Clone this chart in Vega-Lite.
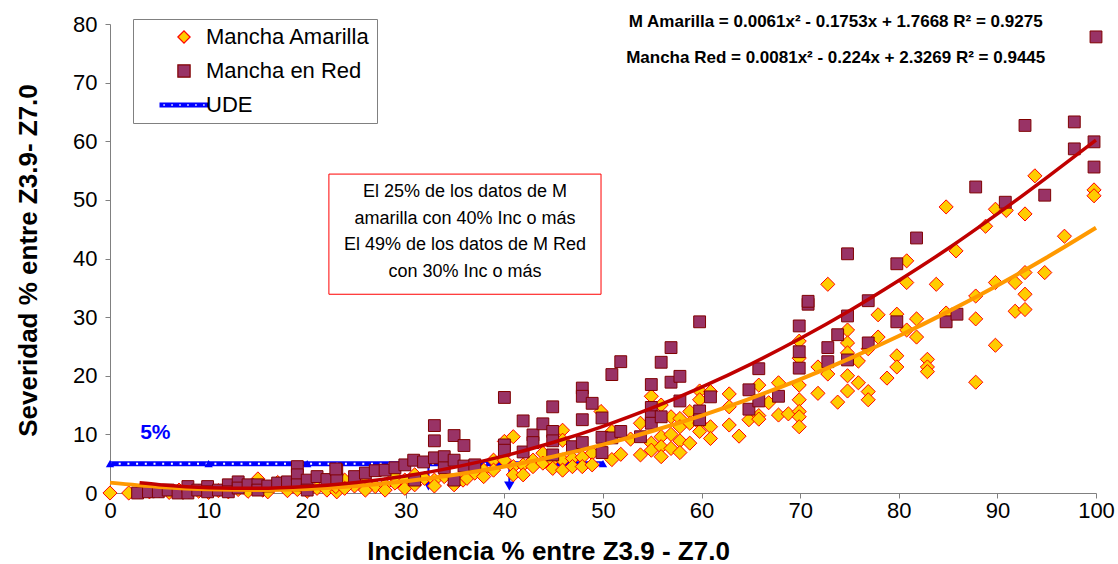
{
  "$schema": "https://vega.github.io/schema/vega-lite/v6.json",
  "width": 986,
  "height": 469,
  "autosize": "none",
  "padding": {"left": 110, "top": 24, "right": 22, "bottom": 71},
  "background": "white",
  "config": {"font": "Liberation Sans", "view": {"stroke": null}},
  "datasets": {
    "pts": [
      {"s":"Mancha Amarilla","x":0,"y":0},{"s":"Mancha Amarilla","x":1.9,"y":0},{"s":"Mancha Amarilla","x":3,"y":0.3},{"s":"Mancha Amarilla","x":4,"y":0.2},{"s":"Mancha Amarilla","x":5,"y":0.4},{"s":"Mancha Amarilla","x":6,"y":0.1},{"s":"Mancha Amarilla","x":7,"y":0.5},{"s":"Mancha Amarilla","x":8,"y":0.2},{"s":"Mancha Amarilla","x":9,"y":0.3},{"s":"Mancha Amarilla","x":10,"y":0.1},{"s":"Mancha Amarilla","x":11,"y":0.4},{"s":"Mancha Amarilla","x":12,"y":0.2},{"s":"Mancha Amarilla","x":13,"y":0.6},{"s":"Mancha Amarilla","x":14,"y":0.3},{"s":"Mancha Amarilla","x":15,"y":2.4},{"s":"Mancha Amarilla","x":15.5,"y":0.5},{"s":"Mancha Amarilla","x":16,"y":0.2},{"s":"Mancha Amarilla","x":17,"y":1.8},{"s":"Mancha Amarilla","x":18,"y":0.4},{"s":"Mancha Amarilla","x":19,"y":0.6},{"s":"Mancha Amarilla","x":20,"y":0.3},{"s":"Mancha Amarilla","x":21,"y":0.8},{"s":"Mancha Amarilla","x":22,"y":0.5},{"s":"Mancha Amarilla","x":23,"y":0.2},{"s":"Mancha Amarilla","x":22.9,"y":1.1},{"s":"Mancha Amarilla","x":23.8,"y":2.2},{"s":"Mancha Amarilla","x":24.8,"y":1.2},{"s":"Mancha Amarilla","x":25.9,"y":1.7},{"s":"Mancha Amarilla","x":26.9,"y":1.1},{"s":"Mancha Amarilla","x":27.9,"y":1.4},{"s":"Mancha Amarilla","x":28.9,"y":1.7},{"s":"Mancha Amarilla","x":29.9,"y":2.2},{"s":"Mancha Amarilla","x":29.9,"y":0.8},{"s":"Mancha Amarilla","x":30.9,"y":3.1},{"s":"Mancha Amarilla","x":30.9,"y":1.4},{"s":"Mancha Amarilla","x":31.9,"y":2.5},{"s":"Mancha Amarilla","x":32.9,"y":2.2},{"s":"Mancha Amarilla","x":32.9,"y":1.2},{"s":"Mancha Amarilla","x":33.9,"y":2.8},{"s":"Mancha Amarilla","x":34.9,"y":1.4},{"s":"Mancha Amarilla","x":35.8,"y":2.2},{"s":"Mancha Amarilla","x":28.9,"y":2.8},{"s":"Mancha Amarilla","x":27.9,"y":0.5},{"s":"Mancha Amarilla","x":23.8,"y":0.8},{"s":"Mancha Amarilla","x":25.9,"y":0.5},{"s":"Mancha Amarilla","x":36.2,"y":2.5},{"s":"Mancha Amarilla","x":37,"y":3.4},{"s":"Mancha Amarilla","x":37.9,"y":3.9},{"s":"Mancha Amarilla","x":37.9,"y":2.8},{"s":"Mancha Amarilla","x":38.9,"y":5.6},{"s":"Mancha Amarilla","x":38.9,"y":3.9},{"s":"Mancha Amarilla","x":40,"y":5.6},{"s":"Mancha Amarilla","x":40,"y":8.8},{"s":"Mancha Amarilla","x":40.9,"y":9.6},{"s":"Mancha Amarilla","x":40.9,"y":4.5},{"s":"Mancha Amarilla","x":40.9,"y":3.1},{"s":"Mancha Amarilla","x":41.9,"y":4.8},{"s":"Mancha Amarilla","x":41.9,"y":3.1},{"s":"Mancha Amarilla","x":42.9,"y":5.6},{"s":"Mancha Amarilla","x":42.9,"y":4.5},{"s":"Mancha Amarilla","x":43.9,"y":6.8},{"s":"Mancha Amarilla","x":43.9,"y":5.1},{"s":"Mancha Amarilla","x":44.9,"y":5.6},{"s":"Mancha Amarilla","x":44.9,"y":4.2},{"s":"Mancha Amarilla","x":45.9,"y":10.7},{"s":"Mancha Amarilla","x":45.9,"y":9.0},{"s":"Mancha Amarilla","x":45.9,"y":5.6},{"s":"Mancha Amarilla","x":45.9,"y":3.9},{"s":"Mancha Amarilla","x":46.9,"y":5.9},{"s":"Mancha Amarilla","x":46.9,"y":4.5},{"s":"Mancha Amarilla","x":47.9,"y":6.1},{"s":"Mancha Amarilla","x":47.9,"y":4.5},{"s":"Mancha Amarilla","x":48.9,"y":6.8},{"s":"Mancha Amarilla","x":48.9,"y":4.8},{"s":"Mancha Amarilla","x":49.8,"y":13.9},{"s":"Mancha Amarilla","x":50.9,"y":10.5},{"s":"Mancha Amarilla","x":50.9,"y":5.7},{"s":"Mancha Amarilla","x":51.8,"y":6.6},{"s":"Mancha Amarilla","x":52.8,"y":9.2},{"s":"Mancha Amarilla","x":53.8,"y":11.9},{"s":"Mancha Amarilla","x":53.8,"y":6.5},{"s":"Mancha Amarilla","x":54.9,"y":16.5},{"s":"Mancha Amarilla","x":54.9,"y":8.5},{"s":"Mancha Amarilla","x":54.9,"y":7.3},{"s":"Mancha Amarilla","x":55.9,"y":15},{"s":"Mancha Amarilla","x":55.9,"y":9.6},{"s":"Mancha Amarilla","x":55.9,"y":7.9},{"s":"Mancha Amarilla","x":55.9,"y":6.2},{"s":"Mancha Amarilla","x":56.9,"y":13},{"s":"Mancha Amarilla","x":56.9,"y":10},{"s":"Mancha Amarilla","x":56.9,"y":7.6},{"s":"Mancha Amarilla","x":57.8,"y":12.7},{"s":"Mancha Amarilla","x":57.8,"y":11.3},{"s":"Mancha Amarilla","x":57.8,"y":8.9},{"s":"Mancha Amarilla","x":57.8,"y":6.9},{"s":"Mancha Amarilla","x":58.8,"y":13.9},{"s":"Mancha Amarilla","x":58.8,"y":11.9},{"s":"Mancha Amarilla","x":58.8,"y":8.5},{"s":"Mancha Amarilla","x":59.8,"y":17.4},{"s":"Mancha Amarilla","x":59.8,"y":15.9},{"s":"Mancha Amarilla","x":59.8,"y":11.9},{"s":"Mancha Amarilla","x":59.8,"y":10.5},{"s":"Mancha Amarilla","x":60.9,"y":17.3},{"s":"Mancha Amarilla","x":60.9,"y":11.3},{"s":"Mancha Amarilla","x":60.9,"y":9.3},{"s":"Mancha Amarilla","x":62.8,"y":16.9},{"s":"Mancha Amarilla","x":62.8,"y":14.7},{"s":"Mancha Amarilla","x":62.8,"y":11.6},{"s":"Mancha Amarilla","x":63.8,"y":9.7},{"s":"Mancha Amarilla","x":64.8,"y":12.5},{"s":"Mancha Amarilla","x":65.8,"y":18.4},{"s":"Mancha Amarilla","x":65.8,"y":13.2},{"s":"Mancha Amarilla","x":65.8,"y":12.6},{"s":"Mancha Amarilla","x":66.8,"y":15.4},{"s":"Mancha Amarilla","x":67.8,"y":18.8},{"s":"Mancha Amarilla","x":67.8,"y":13.3},{"s":"Mancha Amarilla","x":68.8,"y":13.5},{"s":"Mancha Amarilla","x":69.9,"y":25.9},{"s":"Mancha Amarilla","x":69.9,"y":23},{"s":"Mancha Amarilla","x":69.9,"y":18.4},{"s":"Mancha Amarilla","x":69.9,"y":15.9},{"s":"Mancha Amarilla","x":69.9,"y":13.9},{"s":"Mancha Amarilla","x":69.9,"y":13.0},{"s":"Mancha Amarilla","x":69.9,"y":11.3},{"s":"Mancha Amarilla","x":71.8,"y":21.5},{"s":"Mancha Amarilla","x":71.8,"y":17},{"s":"Mancha Amarilla","x":72.8,"y":35.6},{"s":"Mancha Amarilla","x":72.8,"y":20.3},{"s":"Mancha Amarilla","x":73.8,"y":15.5},{"s":"Mancha Amarilla","x":74.8,"y":27.8},{"s":"Mancha Amarilla","x":74.8,"y":25.6},{"s":"Mancha Amarilla","x":74.8,"y":23.9},{"s":"Mancha Amarilla","x":74.8,"y":20},{"s":"Mancha Amarilla","x":74.8,"y":17.4},{"s":"Mancha Amarilla","x":75.9,"y":22.5},{"s":"Mancha Amarilla","x":75.9,"y":18.8},{"s":"Mancha Amarilla","x":76.9,"y":24.6},{"s":"Mancha Amarilla","x":76.9,"y":17.3},{"s":"Mancha Amarilla","x":76.9,"y":15.9},{"s":"Mancha Amarilla","x":77.9,"y":30.4},{"s":"Mancha Amarilla","x":77.9,"y":26.6},{"s":"Mancha Amarilla","x":78.8,"y":19.6},{"s":"Mancha Amarilla","x":79.8,"y":30.5},{"s":"Mancha Amarilla","x":79.8,"y":23.4},{"s":"Mancha Amarilla","x":79.8,"y":21.5},{"s":"Mancha Amarilla","x":80.8,"y":39.6},{"s":"Mancha Amarilla","x":80.8,"y":35.9},{"s":"Mancha Amarilla","x":80.8,"y":27.8},{"s":"Mancha Amarilla","x":81.8,"y":29.7},{"s":"Mancha Amarilla","x":81.8,"y":26.6},{"s":"Mancha Amarilla","x":82.9,"y":22.8},{"s":"Mancha Amarilla","x":82.9,"y":21.5},{"s":"Mancha Amarilla","x":82.9,"y":20.7},{"s":"Mancha Amarilla","x":83.8,"y":35.6},{"s":"Mancha Amarilla","x":84.8,"y":48.8},{"s":"Mancha Amarilla","x":84.8,"y":30.7},{"s":"Mancha Amarilla","x":85.8,"y":41.3},{"s":"Mancha Amarilla","x":87.8,"y":33.6},{"s":"Mancha Amarilla","x":87.8,"y":29.7},{"s":"Mancha Amarilla","x":87.8,"y":18.9},{"s":"Mancha Amarilla","x":88.8,"y":45.5},{"s":"Mancha Amarilla","x":89.8,"y":48.4},{"s":"Mancha Amarilla","x":89.8,"y":35.9},{"s":"Mancha Amarilla","x":89.8,"y":25.2},{"s":"Mancha Amarilla","x":90.9,"y":48.2},{"s":"Mancha Amarilla","x":91.8,"y":35.9},{"s":"Mancha Amarilla","x":91.8,"y":31.0},{"s":"Mancha Amarilla","x":92.8,"y":47.6},{"s":"Mancha Amarilla","x":92.8,"y":37.6},{"s":"Mancha Amarilla","x":92.8,"y":33.9},{"s":"Mancha Amarilla","x":92.8,"y":31.3},{"s":"Mancha Amarilla","x":93.8,"y":54.1},{"s":"Mancha Amarilla","x":94.8,"y":37.6},{"s":"Mancha Amarilla","x":96.8,"y":43.8},{"s":"Mancha Amarilla","x":99.8,"y":51.7},{"s":"Mancha Amarilla","x":99.8,"y":50.7},
      {"s":"Mancha en Red","x":2.8,"y":0},{"s":"Mancha en Red","x":3.9,"y":0.2},{"s":"Mancha en Red","x":4.9,"y":0.2},{"s":"Mancha en Red","x":5.9,"y":0.5},{"s":"Mancha en Red","x":6.9,"y":0},{"s":"Mancha en Red","x":7.9,"y":1.1},{"s":"Mancha en Red","x":7.9,"y":0},{"s":"Mancha en Red","x":8.9,"y":0.5},{"s":"Mancha en Red","x":9.9,"y":1.1},{"s":"Mancha en Red","x":9.9,"y":0.2},{"s":"Mancha en Red","x":11,"y":0.5},{"s":"Mancha en Red","x":12,"y":1.4},{"s":"Mancha en Red","x":12,"y":0.2},{"s":"Mancha en Red","x":13,"y":1.9},{"s":"Mancha en Red","x":13,"y":0.85},{"s":"Mancha en Red","x":14,"y":1.4},{"s":"Mancha en Red","x":15,"y":1.4},{"s":"Mancha en Red","x":15,"y":0.5},{"s":"Mancha en Red","x":16,"y":1.2},{"s":"Mancha en Red","x":17,"y":1.7},{"s":"Mancha en Red","x":18,"y":1.9},{"s":"Mancha en Red","x":19,"y":4.5},{"s":"Mancha en Red","x":19,"y":3.1},{"s":"Mancha en Red","x":19,"y":1.4},{"s":"Mancha en Red","x":20,"y":2.2},{"s":"Mancha en Red","x":20,"y":0.5},{"s":"Mancha en Red","x":21,"y":2.8},{"s":"Mancha en Red","x":22,"y":2.3},{"s":"Mancha en Red","x":23,"y":3.9},{"s":"Mancha en Red","x":23,"y":2.4},{"s":"Mancha en Red","x":22.9,"y":4.1},{"s":"Mancha en Red","x":24.8,"y":2.8},{"s":"Mancha en Red","x":25.9,"y":3.4},{"s":"Mancha en Red","x":26.9,"y":3.8},{"s":"Mancha en Red","x":27.9,"y":3.9},{"s":"Mancha en Red","x":28.9,"y":4.3},{"s":"Mancha en Red","x":29.9,"y":4.8},{"s":"Mancha en Red","x":30.8,"y":5.6},{"s":"Mancha en Red","x":30.9,"y":2.2},{"s":"Mancha en Red","x":31.8,"y":5.3},{"s":"Mancha en Red","x":32.9,"y":11.5},{"s":"Mancha en Red","x":32.9,"y":8.9},{"s":"Mancha en Red","x":32.9,"y":6.0},{"s":"Mancha en Red","x":33.9,"y":6.2},{"s":"Mancha en Red","x":33.9,"y":4.3},{"s":"Mancha en Red","x":34.9,"y":9.8},{"s":"Mancha en Red","x":34.9,"y":5.6},{"s":"Mancha en Red","x":34.9,"y":2.2},{"s":"Mancha en Red","x":35.9,"y":8.1},{"s":"Mancha en Red","x":35.9,"y":4.6},{"s":"Mancha en Red","x":37,"y":4.8},{"s":"Mancha en Red","x":40,"y":16.3},{"s":"Mancha en Red","x":40,"y":8.2},{"s":"Mancha en Red","x":40,"y":7.3},{"s":"Mancha en Red","x":41.9,"y":12.3},{"s":"Mancha en Red","x":41.9,"y":7.0},{"s":"Mancha en Red","x":42.9,"y":9.9},{"s":"Mancha en Red","x":42.9,"y":8.6},{"s":"Mancha en Red","x":43.9,"y":11.8},{"s":"Mancha en Red","x":44.9,"y":14.7},{"s":"Mancha en Red","x":44.9,"y":10.5},{"s":"Mancha en Red","x":44.9,"y":8.9},{"s":"Mancha en Red","x":44.9,"y":6.5},{"s":"Mancha en Red","x":46.9,"y":7.9},{"s":"Mancha en Red","x":47.9,"y":17.9},{"s":"Mancha en Red","x":47.9,"y":16.5},{"s":"Mancha en Red","x":47.9,"y":12.5},{"s":"Mancha en Red","x":47.9,"y":8.6},{"s":"Mancha en Red","x":48.9,"y":15.3},{"s":"Mancha en Red","x":49.9,"y":12.8},{"s":"Mancha en Red","x":49.9,"y":9.5},{"s":"Mancha en Red","x":49.9,"y":6.9},{"s":"Mancha en Red","x":50.9,"y":9.4},{"s":"Mancha en Red","x":50.9,"y":20.2},{"s":"Mancha en Red","x":51.8,"y":22.4},{"s":"Mancha en Red","x":51.8,"y":10.5},{"s":"Mancha en Red","x":53.8,"y":9.6},{"s":"Mancha en Red","x":54.9,"y":18.5},{"s":"Mancha en Red","x":54.9,"y":14.6},{"s":"Mancha en Red","x":54.9,"y":13.0},{"s":"Mancha en Red","x":54.9,"y":11.9},{"s":"Mancha en Red","x":55.9,"y":22.3},{"s":"Mancha en Red","x":55.9,"y":13.0},{"s":"Mancha en Red","x":56.9,"y":24.8},{"s":"Mancha en Red","x":56.9,"y":18.9},{"s":"Mancha en Red","x":57.8,"y":19.9},{"s":"Mancha en Red","x":57.8,"y":15.7},{"s":"Mancha en Red","x":59.8,"y":29.2},{"s":"Mancha en Red","x":59.8,"y":14.0},{"s":"Mancha en Red","x":59.8,"y":12.5},{"s":"Mancha en Red","x":60.9,"y":16.4},{"s":"Mancha en Red","x":64.8,"y":17.6},{"s":"Mancha en Red","x":64.8,"y":14.3},{"s":"Mancha en Red","x":65.8,"y":21.2},{"s":"Mancha en Red","x":65.8,"y":15.7},{"s":"Mancha en Red","x":67.8,"y":16.5},{"s":"Mancha en Red","x":69.9,"y":28.5},{"s":"Mancha en Red","x":69.9,"y":24.1},{"s":"Mancha en Red","x":69.9,"y":21.3},{"s":"Mancha en Red","x":70.8,"y":32.2},{"s":"Mancha en Red","x":70.8,"y":32.7},{"s":"Mancha en Red","x":72.8,"y":24.8},{"s":"Mancha en Red","x":72.8,"y":22.4},{"s":"Mancha en Red","x":73.8,"y":27.0},{"s":"Mancha en Red","x":74.8,"y":40.8},{"s":"Mancha en Red","x":74.8,"y":30.2},{"s":"Mancha en Red","x":74.8,"y":22.7},{"s":"Mancha en Red","x":76.9,"y":32.8},{"s":"Mancha en Red","x":76.9,"y":25.6},{"s":"Mancha en Red","x":79.8,"y":39.1},{"s":"Mancha en Red","x":79.8,"y":29.2},{"s":"Mancha en Red","x":81.8,"y":43.5},{"s":"Mancha en Red","x":84.8,"y":29.2},{"s":"Mancha en Red","x":85.9,"y":30.5},{"s":"Mancha en Red","x":87.8,"y":52.2},{"s":"Mancha en Red","x":90.8,"y":49.6},{"s":"Mancha en Red","x":92.8,"y":62.7},{"s":"Mancha en Red","x":94.8,"y":50.8},{"s":"Mancha en Red","x":97.8,"y":63.3},{"s":"Mancha en Red","x":97.8,"y":58.7},{"s":"Mancha en Red","x":99.8,"y":59.9},{"s":"Mancha en Red","x":99.8,"y":55.6},{"s":"Mancha en Red","x":100,"y":77.8}
    ],
    "trA": [
      {"x":0,"y":1.77},{"x":5,"y":1.04},{"x":10,"y":0.62},{"x":15,"y":0.51},{"x":20,"y":0.70},{"x":25,"y":1.2},{"x":30,"y":2.0},{"x":35,"y":3.1},{"x":40,"y":4.51},{"x":45,"y":6.23},{"x":50,"y":8.25},{"x":55,"y":10.58},{"x":60,"y":13.21},{"x":65,"y":16.15},{"x":70,"y":19.39},{"x":75,"y":22.93},{"x":80,"y":26.78},{"x":85,"y":30.94},{"x":90,"y":35.4},{"x":95,"y":40.17},{"x":100,"y":45.24}
    ],
    "trR": [
      {"x":3,"y":1.73},{"x":5,"y":1.41},{"x":10,"y":0.9},{"x":15,"y":0.79},{"x":20,"y":1.09},{"x":25,"y":1.79},{"x":30,"y":2.9},{"x":35,"y":4.41},{"x":40,"y":6.33},{"x":45,"y":8.65},{"x":50,"y":11.38},{"x":55,"y":14.5},{"x":60,"y":18.05},{"x":65,"y":21.99},{"x":70,"y":26.34},{"x":75,"y":31.09},{"x":80,"y":36.25},{"x":85,"y":41.7},{"x":90,"y":47.6},{"x":95,"y":53.8},{"x":100,"y":60.2}
    ],
    "ude": [
      {"x":0,"y":5},{"x":10,"y":5},{"x":20,"y":5},{"x":30,"y":5},{"x":40,"y":5},{"x":50,"y":5}
    ],
    "arrows": [
      {"x":32.3,"y":5.6,"y2":0.9,"tip":1.2},{"x":40.5,"y":4.4,"y2":0.9,"tip":1.2}
    ]
  },
  "layer": [
    {
      "data": {"name": "ude"},
      "mark": {"type": "line", "color": "#0000FF", "strokeWidth": 5},
      "encoding": {
        "x": {"field": "x", "type": "quantitative", "scale": {"domain": [0, 100], "nice": false},
          "axis": {"values": [0,10,20,30,40,50,60,70,80,90,100], "grid": false, "tickSize": 5, "labelFontSize": 22, "labelColor": "black", "labelPadding": 2, "domainColor": "#808080", "tickColor": "#808080", "labelFlush": false,
            "title": "Incidencia % entre Z3.9 - Z7.0", "titleFontSize": 26, "titleFontWeight": "bold", "titleColor": "black", "titleX": 438, "titleY": 58, "titleBaseline": "middle", "titleAlign": "center"}},
        "y": {"field": "y", "type": "quantitative", "scale": {"domain": [0, 80], "nice": false},
          "axis": {"values": [0,10,20,30,40,50,60,70,80], "grid": false, "tickSize": 5, "labelFontSize": 22, "labelColor": "black", "labelPadding": 8, "domainColor": "#808080", "tickColor": "#808080", "labelFlush": false,
            "title": "Severidad % entre Z3.9- Z7.0", "titleFontSize": 26, "titleFontWeight": "bold", "titleColor": "black", "titleX": -82, "titleY": 236, "titleBaseline": "middle", "titleAlign": "center", "titleAngle": -90}}
      }
    },
    {
      "data": {"name": "ude"},
      "mark": {"type": "line", "color": "white", "strokeWidth": 2, "strokeDash": [2, 6.7]},
      "encoding": {"x": {"field": "x", "type": "quantitative"}, "y": {"field": "y", "type": "quantitative"}}
    },
    {
      "data": {"name": "ude"},
      "mark": {"type": "point", "shape": "triangle-up", "filled": true, "color": "#0000FF", "size": 70, "opacity": 1},
      "encoding": {"x": {"field": "x", "type": "quantitative"}, "y": {"field": "y", "type": "quantitative"}}
    },
    {
      "data": {"name": "arrows"},
      "mark": {"type": "rule", "color": "#0000FF", "strokeWidth": 2},
      "encoding": {"x": {"field": "x", "type": "quantitative"}, "y": {"field": "y", "type": "quantitative"}, "y2": {"field": "y2"}}
    },
    {
      "data": {"name": "arrows"},
      "mark": {"type": "point", "shape": "triangle-down", "filled": true, "color": "#0000FF", "size": 110, "opacity": 1},
      "encoding": {"x": {"field": "x", "type": "quantitative"}, "y": {"field": "tip", "type": "quantitative"}}
    },
    {
      "data": {"name": "pts"},
      "transform": [{"filter": "datum.s === 'Mancha Amarilla'"}],
      "mark": {"type": "point", "filled": true, "strokeWidth": 1, "opacity": 1, "size": 200},
      "encoding": {
        "x": {"field": "x", "type": "quantitative"},
        "y": {"field": "y", "type": "quantitative"},
        "shape": {"field": "s", "type": "nominal", "scale": {"domain": ["Mancha Amarilla", "Mancha en Red", "UDE"], "range": ["diamond", "square", "M-4,-0.4H4V0.4H-4Z M-3.37,-0.13V0.13H-3.13V-0.13Z M-2.07,-0.13V0.13H-1.83V-0.13Z M-0.77,-0.13V0.13H-0.53V-0.13Z M0.53,-0.13V0.13H0.77V-0.13Z M1.83,-0.13V0.13H2.07V-0.13Z M3.13,-0.13V0.13H3.37V-0.13Z"]},
          "legend": {"title": null, "orient": "none", "legendX": 23, "legendY": -5, "padding": 7, "rowPadding": 12, "symbolOffset": 33, "labelOffset": 11, "labelFontSize": 22, "labelLimit": 400, "labelColor": "black", "symbolSize": 150, "symbolStrokeWidth": 1.2, "strokeColor": "#808080", "fillColor": "white"}},
        "fill": {"field": "s", "type": "nominal", "scale": {"domain": ["Mancha Amarilla", "Mancha en Red", "UDE"], "range": ["#FFCC00", "#993366", "#0000FF"]},
          "legend": {"title": null, "orient": "none", "legendX": 23, "legendY": -5, "padding": 7, "rowPadding": 12, "symbolOffset": 33, "labelOffset": 11, "labelFontSize": 22, "labelLimit": 400, "labelColor": "black", "symbolSize": 150, "symbolStrokeWidth": 1.2, "strokeColor": "#808080", "fillColor": "white"}},
        "stroke": {"field": "s", "type": "nominal", "scale": {"domain": ["Mancha Amarilla", "Mancha en Red", "UDE"], "range": ["#FF0000", "#800000", "rgba(0,0,0,0)"]},
          "legend": {"title": null, "orient": "none", "legendX": 23, "legendY": -5, "padding": 7, "rowPadding": 12, "symbolOffset": 33, "labelOffset": 11, "labelFontSize": 22, "labelLimit": 400, "labelColor": "black", "symbolSize": 150, "symbolStrokeWidth": 1.2, "strokeColor": "#808080", "fillColor": "white"}}
      }
    },
    {
      "data": {"name": "pts"},
      "transform": [{"filter": "datum.s === 'Mancha en Red'"}],
      "mark": {"type": "point", "filled": true, "strokeWidth": 1, "opacity": 1, "size": 140},
      "encoding": {
        "x": {"field": "x", "type": "quantitative"},
        "y": {"field": "y", "type": "quantitative"},
        "shape": {"field": "s", "type": "nominal"},
        "fill": {"field": "s", "type": "nominal"},
        "stroke": {"field": "s", "type": "nominal"}
      }
    },
    {
      "data": {"name": "trA"},
      "mark": {"type": "line", "color": "#FF9900", "strokeWidth": 4, "interpolate": "monotone"},
      "encoding": {"x": {"field": "x", "type": "quantitative"}, "y": {"field": "y", "type": "quantitative"}}
    },
    {
      "data": {"name": "trR"},
      "mark": {"type": "line", "color": "#C00000", "strokeWidth": 3.5, "interpolate": "monotone"},
      "encoding": {"x": {"field": "x", "type": "quantitative"}, "y": {"field": "y", "type": "quantitative"}}
    },
    {
      "data": {"values": [{"x1": 22.2, "x2": 49.8, "y1": 33.9, "y2": 54.4}]},
      "mark": {"type": "rect", "fill": "white", "stroke": "#FF0000", "strokeWidth": 1},
      "encoding": {"x": {"field": "x1", "type": "quantitative"}, "x2": {"field": "x2"}, "y": {"field": "y1", "type": "quantitative"}, "y2": {"field": "y2"}}
    },
    {
      "data": {"values": [
        {"x": 36, "y": 51.3, "t": "El 25% de los datos de M"},
        {"x": 36, "y": 46.7, "t": "amarilla con 40% Inc o más"},
        {"x": 36, "y": 42.3, "t": "El 49% de los datos de M Red"},
        {"x": 36, "y": 37.7, "t": "con 30% Inc o más"}
      ]},
      "mark": {"type": "text", "fontSize": 18, "color": "black", "align": "center", "baseline": "middle"},
      "encoding": {"x": {"field": "x", "type": "quantitative"}, "y": {"field": "y", "type": "quantitative"}, "text": {"field": "t"}}
    },
    {
      "data": {"values": [
        {"x": 73.6, "y": 80.3, "t": "M Amarilla = 0.0061x² - 0.1753x + 1.7668 R² = 0.9275"},
        {"x": 73.6, "y": 74.2, "t": "Mancha Red = 0.0081x² - 0.224x + 2.3269 R² = 0.9445"}
      ]},
      "mark": {"type": "text", "fontSize": 17, "fontWeight": "bold", "color": "black", "align": "center", "baseline": "middle"},
      "encoding": {"x": {"field": "x", "type": "quantitative"}, "y": {"field": "y", "type": "quantitative"}, "text": {"field": "t"}}
    },
    {
      "data": {"values": [{"x": 4.6, "y": 10.2, "t": "5%"}]},
      "mark": {"type": "text", "fontSize": 21, "fontWeight": "bold", "color": "#0000FF", "align": "center", "baseline": "middle"},
      "encoding": {"x": {"field": "x", "type": "quantitative"}, "y": {"field": "y", "type": "quantitative"}, "text": {"field": "t"}}
    }
  ]
}
